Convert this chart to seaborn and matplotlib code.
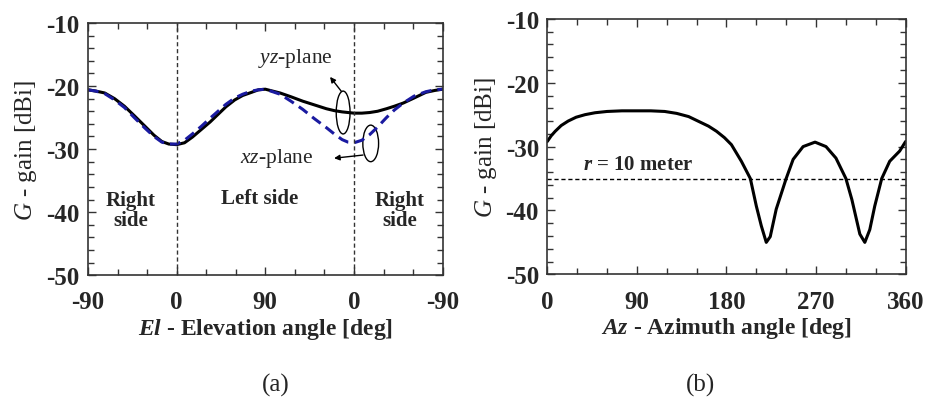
import numpy as np
import pandas as pd
import matplotlib
matplotlib.use("Agg")
import matplotlib.pyplot as plt
from matplotlib.patches import Ellipse
from matplotlib.ticker import MultipleLocator
import seaborn as sns

# (a) elevation cuts, x position 0..360 along the unfolded axis (-90 .. 0 .. 90 .. 0 .. -90)
el_pos = [0, 8, 17, 27, 37, 47, 58, 67, 75, 82, 90, 98, 106, 115, 124, 132, 140, 149, 157, 166, 173, 180,
          195, 206, 218, 230, 242, 250, 258, 264, 270, 278, 286, 294, 303, 311, 320, 331, 343, 352, 360]
yz_gain = [-20.6, -20.8, -21.1, -22.0, -23.2, -24.7, -26.4, -27.8, -28.8, -29.2, -29.3, -29.0, -28.1, -26.9,
           -25.7, -24.5, -23.3, -22.2, -21.5, -21.0, -20.6, -20.5,
           -21.1, -21.7, -22.4, -23.0, -23.6, -23.9, -24.1, -24.2, -24.3, -24.3, -24.2, -24.0, -23.6, -23.2,
           -22.7, -21.9, -21.0, -20.7, -20.5]
xz_gain = [-20.6, -20.8, -21.2, -22.2, -23.4, -25.0, -26.7, -28.0, -28.9, -29.2, -29.2, -28.6, -27.6, -26.4,
           -25.1, -24.0, -22.9, -21.9, -21.3, -20.8, -20.6, -20.5,
           -21.3, -22.4, -23.7, -25.2, -26.6, -27.6, -28.5, -28.9, -29.0, -28.6, -27.7, -26.5, -25.0, -23.8,
           -22.7, -21.6, -20.9, -20.6, -20.5]
el_ticklabels = ["-90", "0", "90", "0", "-90"]

# (b) azimuth cut
az_deg = [0, 4, 8, 14, 21, 29, 38, 48, 60, 75, 90, 104, 118, 130, 142, 154, 162, 170, 178, 185, 195, 204,
          210, 215, 220, 224, 230, 240, 247, 257, 269, 280, 290, 300, 306, 314, 319, 324, 329, 336, 344, 354, 360]
az_gain = [-29.2, -28.3, -27.6, -26.7, -26.0, -25.4, -25.0, -24.7, -24.5, -24.4, -24.4, -24.4, -24.5, -24.8,
           -25.3, -26.2, -26.8, -27.6, -28.6, -29.7, -32.3, -35.0, -39.3, -42.4, -45.0, -44.1, -39.8, -35.0,
           -32.0, -30.0, -29.3, -30.0, -31.8, -35.0, -38.3, -43.7, -45.0, -43.0, -39.3, -35.0, -32.3, -30.7, -29.2]
r_level = -35.0

sns.set_style("ticks")
plt.rcParams['font.family'] = ['Liberation Serif', 'DejaVu Serif']
plt.rcParams['axes.unicode_minus'] = False
plt.rcParams['mathtext.fontset'] = 'custom'
plt.rcParams['mathtext.rm'] = 'Liberation Serif'
plt.rcParams['mathtext.it'] = 'Liberation Serif:italic'
plt.rcParams['mathtext.bf'] = 'Liberation Serif:bold'
plt.rcParams['mathtext.bfit'] = 'Liberation Serif:bold:italic'

fig = plt.figure(figsize=(9.26, 4.14), dpi=100)
ax1 = fig.add_axes([0.095, 0.333, 0.383, 0.609])
ax2 = fig.add_axes([0.591, 0.335, 0.387, 0.617])

df_yz = pd.DataFrame({"pos": el_pos, "gain": yz_gain})
df_xz = pd.DataFrame({"pos": el_pos, "gain": xz_gain})
sns.lineplot(data=df_yz, x="pos", y="gain", ax=ax1, color="black", lw=2.2)
sns.lineplot(data=df_xz, x="pos", y="gain", ax=ax1, color="#1a1aa0", lw=2.2,
             linestyle=(0, (3.5, 2)))

df_b = pd.DataFrame({"az": az_deg, "gain": az_gain})
sns.lineplot(data=df_b, x="az", y="gain", ax=ax2, color="black", lw=2.2)
ax2.axhline(r_level, color="black", lw=1, linestyle=(0, (3, 2)))

for ax in (ax1, ax2):
    ax.set_xlim(0, 360)
    ax.set_ylim(-50, -10)
    ax.xaxis.set_major_locator(MultipleLocator(90))
    ax.xaxis.set_minor_locator(MultipleLocator(30))
    ax.yaxis.set_major_locator(MultipleLocator(10))
    ax.yaxis.set_minor_locator(MultipleLocator(2))
    ax.tick_params(which="both", direction="in", top=True, right=True, color="#333333", width=1)
    ax.tick_params(which="major", length=6, labelsize=18)
    ax.tick_params(axis="x", which="major", pad=11)
    ax.tick_params(axis="y", which="major", pad=6)
    ax.tick_params(which="minor", length=4)
    for lab in ax.get_xticklabels() + ax.get_yticklabels():
        lab.set_fontweight("bold")
    for s in ax.spines.values():
        s.set_color("#333333")
        s.set_linewidth(1.2)
    ax.set_ylabel(r"$\mathit{G}$ - gain [dBi]", fontsize=18, labelpad=5)

ax1.set_xticks([0, 90, 180, 270, 360])
ax1.set_xticklabels(el_ticklabels, fontweight="bold")
ax1.set_xlabel(r"$\mathbfit{El}$ - Elevation angle [deg]", fontsize=17, fontweight="bold", labelpad=2)
ax2.set_xlabel(r"$\mathbfit{Az}$ - Azimuth angle [deg]", fontsize=17, fontweight="bold", labelpad=2)

ax1.axvline(90, color="#333333", lw=1, linestyle=(0, (3, 2)))
ax1.axvline(270, color="#333333", lw=1, linestyle=(0, (3, 2)))

ax1.text(43, -39.6, "Right\nside", ha="center", va="center", fontsize=15, fontweight="bold", linespacing=1.0)
ax1.text(174, -37.8, "Left side", ha="center", va="center", fontsize=15, fontweight="bold")
ax1.text(316, -39.6, "Right\nside", ha="center", va="center", fontsize=15, fontweight="bold", linespacing=1.0)

ax1.text(211, -15.4, r"$\mathit{yz}$-plane", ha="center", va="center", fontsize=15.5)
ax1.text(191, -31.3, r"$\mathit{xz}$-plane", ha="center", va="center", fontsize=15.5)
ax1.annotate("", xy=(244, -18.2), xytext=(259, -21.2),
             arrowprops=dict(arrowstyle="-|>", color="black", lw=1, mutation_scale=8))
ax1.annotate("", xy=(247, -31.5), xytext=(282, -30.9),
             arrowprops=dict(arrowstyle="-|>", color="black", lw=1, mutation_scale=8))
ax1.add_patch(Ellipse((259, -24.2), 14, 6.8, fill=False, lw=1, color="black"))
ax1.add_patch(Ellipse((287, -29.1), 16, 5.8, fill=False, lw=1, color="black"))

ax2.text(36, -32.8, r"$\mathbfit{r}$ = 10 meter", ha="left", va="center", fontsize=15, fontweight="bold")

fig.text(0.298, 0.07, "(a)", ha="center", va="center", fontsize=18)
fig.text(0.756, 0.07, "(b)", ha="center", va="center", fontsize=18)

fig.savefig("out.png", dpi=100)
